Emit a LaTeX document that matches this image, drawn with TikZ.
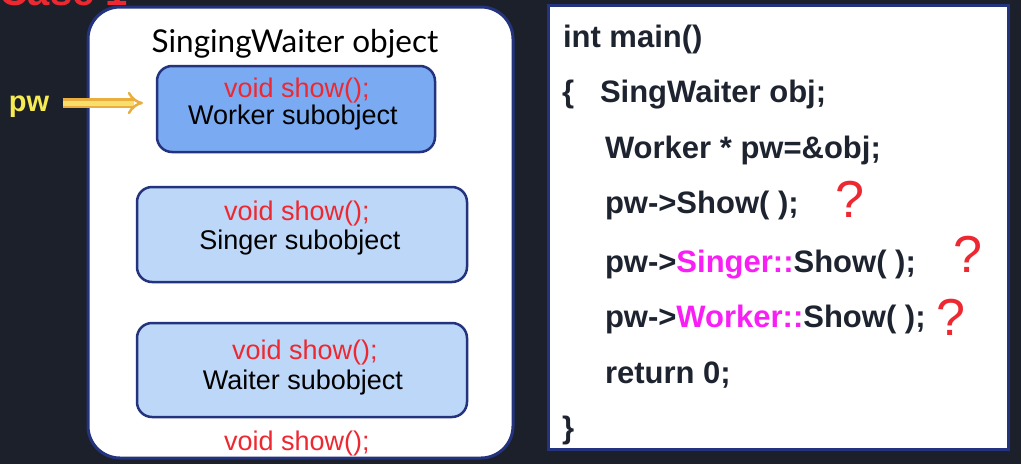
\documentclass[tikz,border=0pt]{standalone}
\usepackage{fontspec}
\setmainfont{Liberation Sans}
\newfontfamily\latofont{Lato}
\usetikzlibrary{arrows.meta}
\definecolor{slidebg}{HTML}{1C202B}
\definecolor{boxnavy}{HTML}{24337E}
\definecolor{workerfill}{HTML}{7AABF2}
\definecolor{basefill}{HTML}{BDD7F8}
\definecolor{showred}{HTML}{EE2830}
\definecolor{scopepink}{HTML}{F91EF5}
\definecolor{codeink}{HTML}{1E2330}
\definecolor{pwyellow}{HTML}{F6EC52}
\definecolor{arrowfill}{HTML}{F8DE6A}
\definecolor{arrowedge}{HTML}{E9AE3E}
\newcommand{\showDecl}[0]{\textcolor{showred}{void show();}}
\newcommand{\boxFont}[0]{\fontsize{27}{27}\selectfont}
\newcommand{\codeFont}[0]{\fontsize{31}{31}\selectfont\bfseries}
\newcommand{\scoped}[1]{\textcolor{scopepink}{#1}}

\begin{document}
\begin{tikzpicture}[x=1pt, y=-1pt]
  \tikzset{
    every node/.style={inner sep=0pt, outer sep=0pt},
    objbox/.style={draw=boxnavy, line width=3pt, fill=white},
    subbox/.style={draw=boxnavy, line width=2.5pt, rounded corners=15pt},
    boxtext/.style={anchor=base, font=\boxFont},
    codeline/.style={anchor=base west, font=\codeFont, text=codeink},
    qmark/.style={anchor=base, font=\fontsize{52}{52}\selectfont, text=showred},
    pwarrow/.style={draw=arrowedge, line width=2.5pt, double=arrowfill,
      double distance=5pt, -{Implies[length=9pt, width=20pt]}}
  }
  \fill[slidebg] (0,0) rectangle (1021,464);
  \useasboundingbox (0,0) rectangle (1021,464);

  % heading, cut off at the top
  \node[anchor=base west, font=\fontsize{40}{40}\selectfont\bfseries,
    text=showred] (casehead) at (-1,5) {Case 1};

  % the object and its subobjects
  \node[objbox, rounded corners=32pt, minimum width=425pt,
    minimum height=451pt] (sw) at (300.5,232.5) {};
  \node[anchor=base, font=\latofont\fontsize{31.5}{31.5}\selectfont]
    (swtitle) at (295,52) {SingingWaiter object};

  \node[subbox, fill=workerfill, minimum width=278pt, minimum height=86pt]
    (worker) at (296,109) {};
  \node[boxtext] (workershow) at (297,97) {\showDecl};
  \node[boxtext] (workername) at (293,124) {Worker subobject};

  \node[subbox, fill=basefill, minimum width=330pt, minimum height=95pt]
    (singer) at (302,234.5) {};
  \node[boxtext] (singershow) at (297,220) {\showDecl};
  \node[boxtext] (singername) at (300,249) {Singer subobject};

  \node[subbox, fill=basefill, minimum width=330pt, minimum height=94pt]
    (waiter) at (302,370) {};
  \node[boxtext] (waitershow) at (305,359) {\showDecl};
  \node[boxtext] (waitername) at (303,389) {Waiter subobject};

  \node[boxtext] (swshow) at (297,450) {\showDecl};

  % the pointer
  \node[anchor=base west, font=\fontsize{29}{29}\selectfont\bfseries,
    text=pwyellow] (pw) at (9,111) {pw};
  \coordinate (pwtip) at (143,103);
  \draw[pwarrow, shorten <=14pt] (pw.east |- pwtip) -- (pwtip);

  % the code
  \node[objbox, minimum width=460pt, minimum height=444pt]
    (code) at (778,227) {};
  \node[codeline] (l1) at (563,47) {int main()};
  \node[codeline] (lbrace) at (562,102) {\{};
  \node[codeline] (l2) at (600,102) {SingWaiter obj;};
  \node[codeline] (l3) at (605,158) {Worker * pw=\&obj;};
  \node[codeline] (l4) at (605,213) {pw->Show( );};
  \node[codeline] (l5) at (605,272) {pw->\scoped{Singer::}Show( );};
  \node[codeline] (l6) at (605,327) {pw->\scoped{Worker::}Show( );};
  \node[codeline] (l7) at (605,383) {return 0;};
  \node[codeline] (rbrace) at (562,438) {\}};

  \node[qmark] (q1) at (850,217) {?};
  \node[qmark] (q2) at (968,272) {?};
  \node[qmark] (q3) at (951,335) {?};
\end{tikzpicture}
\end{document}
